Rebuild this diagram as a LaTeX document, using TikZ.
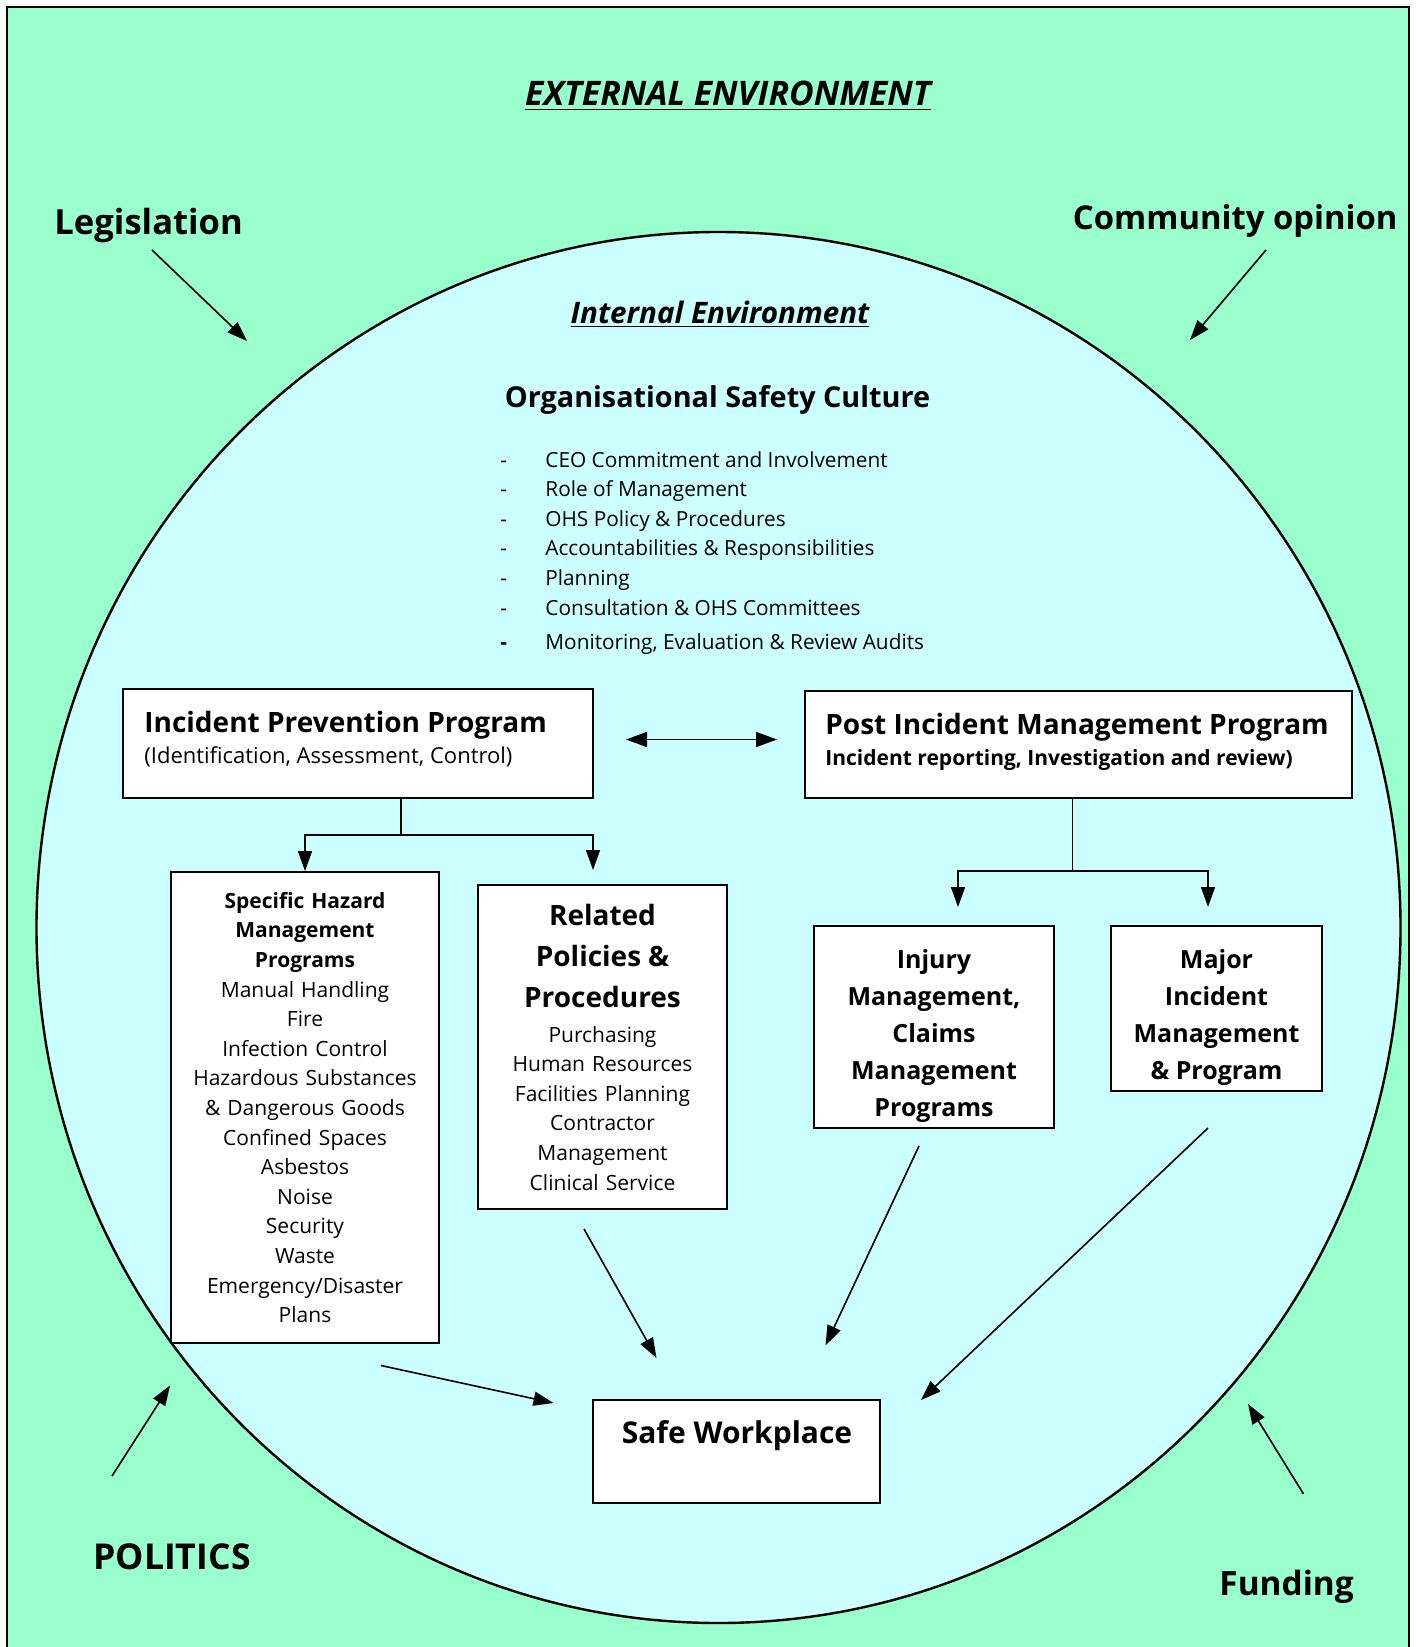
\documentclass[tikz,border=0pt]{standalone}
\usepackage{fontspec}
\setmainfont{Open Sans}
\usepackage{tikz}
\usetikzlibrary{arrows.meta}

\definecolor{outgreen}{RGB}{153,255,204}
\definecolor{incyan}{RGB}{204,255,255}

\newcommand{\fsz}[2]{\fontsize{#1}{#2}\selectfont}

\tikzset{
  box/.style={draw, line width=1pt, fill=white, inner sep=0pt, align=center},
  lbl/.style={inner sep=0pt},
  flow/.style={-{Triangle[length=10pt,width=7pt]}, line width=0.8pt},
  link/.style={line width=0.8pt},
}

\begin{document}
\begin{tikzpicture}[x=0.5pt,y=0.5pt,yscale=-1]
\useasboundingbox (0,0) rectangle (1416,1647);

%Shape: Rectangle [outer frame]
\draw[line width=1pt, fill=outgreen] (7,7) rectangle (1409,1680);
%Shape: Ellipse [internal environment]
\draw[line width=1.2pt, fill=incyan] (718.5,927.5) ellipse [x radius=682, y radius=695.5];

% Text Node
\node (extenv) [lbl, anchor=base, font=\fsz{16.9}{20}\bfseries\itshape] at (728,106) {\underline{EXTERNAL ENVIRONMENT}};
% Text Node
\node (legis) [lbl, anchor=base west, font=\fsz{17.3}{21}\bfseries] at (54,235) {Legislation};
% Text Node
\node (commop) [lbl, anchor=base east, font=\fsz{16.4}{20}\bfseries] at (1398,230) {Community opinion};
% Text Node
\node (intenv) [lbl, anchor=base, font=\fsz{14.8}{18}\bfseries\itshape] at (720,323) {\underline{Internal Environment}};
% Text Node
\node (culture) [lbl, anchor=base, font=\fsz{14.4}{17}\bfseries] at (717.5,407) {Organisational Safety Culture};
% Text Node
\node (cultlist) [lbl, anchor=base west, font=\fsz{10.4}{14.8}] at (500,467) {%
  \begin{tabular}[t]{@{}p{22.5pt}@{}l@{}}
  - & CEO Commitment and Involvement\\
  - & Role of Management\\
  - & OHS Policy \& Procedures\\
  - & Accountabilities \& Responsibilities\\
  - & Planning\\
  - & Consultation \& OHS Committees\\[2.2pt]
  \textbf{-} & Monitoring, Evaluation \& Review Audits
  \end{tabular}};

% Incident prevention
\node (ipp) [box, minimum width=235pt, minimum height=54.5pt] at (358,743.5) {};
\node (ipptitle) [lbl, anchor=base west, font=\fsz{14}{17}\bfseries] at (144,732) {Incident Prevention Program};
\node (ippsub) [lbl, anchor=base west, font=\fsz{11}{13}] at (144,763) {(Identification, Assessment, Control)};

% Post incident management
\node (pim) [box, minimum width=273.5pt, minimum height=53.5pt] at (1078.5,744.5) {};
\node (pimtitle) [lbl, anchor=base west, font=\fsz{14}{17}\bfseries] at (825,734) {Post Incident Management Program};
\node (pimsub) [lbl, anchor=base west, font=\fsz{10.5}{13}\bfseries] at (825,765) {Incident reporting, Investigation and review)};

% Specific hazards
\node (shz) [box, text width=134pt, minimum height=235.5pt, font=\fsz{10.5}{14.8}] at (305,1107.5)
  {\textbf{Specific Hazard}\\\textbf{Management}\\\textbf{Programs}\\Manual Handling\\Fire\\Infection Control\\Hazardous Substances\\\& Dangerous Goods\\Confined Spaces\\Asbestos\\Noise\\Security\\Waste\\Emergency/Disaster\\Plans};

% Related policies
\node (rel) [box, text width=124.5pt, minimum height=162pt, font=\fsz{10.5}{14.8}] at (602.5,1047)
  {{\fsz{14}{20.5}\bfseries Related\\Policies \&\\Procedures\par}\vspace{2.7pt}Purchasing\\Human Resources\\Facilities Planning\\Contractor\\Management\\Clinical Service};

% Injury management
\node (inj) [box, minimum width=120pt, minimum height=101pt] at (934,1027) {};
\node (injtext) [lbl, align=center, font=\fsz{12.5}{18.5}\bfseries] at (934,1036)
  {Injury\\Management,\\Claims\\Management\\Programs};

% Major incident
\node (maj) [box, minimum width=105.5pt, minimum height=82.5pt] at (1216.5,1008.5) {};
\node (majtext) [lbl, align=center, font=\fsz{12.5}{18.5}\bfseries] at (1216.5,1017.5)
  {Major\\Incident\\Management\\\& Program};

% Safe workplace
\node (safe) [box, minimum width=143.5pt, minimum height=51.5pt] at (736.5,1451.5) {};
\node (safetext) [lbl, anchor=base, font=\fsz{15}{18}\bfseries] at (737,1443) {Safe Workplace};

% Text Node
\node (politics) [lbl, anchor=base west, font=\fsz{17.8}{21}\bfseries] at (93,1569) {POLITICS};
% Text Node
\node (funding) [lbl, anchor=base west, font=\fsz{16.7}{20}\bfseries] at (1219,1595) {Funding};

% free ends of the arrows
\coordinate (legA) at (152,250);   \coordinate (legB) at (247,341);
\coordinate (comA) at (1266,250);  \coordinate (comB) at (1190,340);
\coordinate (polA) at (112,1476);  \coordinate (polB) at (170,1385.5);
\coordinate (funA) at (1303.5,1494); \coordinate (funB) at (1248,1404);
\coordinate (shzA) at (381,1365.5); \coordinate (safeW) at (553.5,1403);
\coordinate (relA) at (584,1229);  \coordinate (safeNW) at (656.5,1358);
\coordinate (injA) at (919,1146);  \coordinate (safeN) at (825.5,1345.5);
\coordinate (majA) at (1208,1128); \coordinate (safeNE) at (921,1400);
\coordinate (ippfork) at (401,835); \coordinate (relin) at (593,870);
\coordinate (pimfork) at (1072.5,871);
\coordinate (injin) at (958,907);  \coordinate (majin) at (1208,907);
\coordinate (dblW) at (626,739.5); \coordinate (dblE) at (777,739.5);

% Connection
\draw[flow] (legA) -- (legB);
\draw[flow] (comA) -- (comB);
\draw[flow] (polA) -- (polB);
\draw[flow] (funA) -- (funB);
% Connection
\draw[{Triangle[length=10.5pt,width=7.5pt]}-{Triangle[length=10.5pt,width=7.5pt]}, line width=0.8pt] (dblW) -- (dblE);
% Connection
\draw[link] (ipp.south -| ippfork) -- (ippfork);
\draw[flow] (ippfork) -| (shz.north);
\draw[flow] (ippfork) -| (relin);
\draw[link] (pim.south -| pimfork) -- (pimfork);
\draw[flow] (pimfork) -| (injin);
\draw[flow] (pimfork) -| (majin);
% Connection
\draw[flow] (shzA) -- (safeW);
\draw[flow] (relA) -- (safeNW);
\draw[flow] (injA) -- (safeN);
\draw[flow] (majA) -- (safeNE);

\end{tikzpicture}
\end{document}
